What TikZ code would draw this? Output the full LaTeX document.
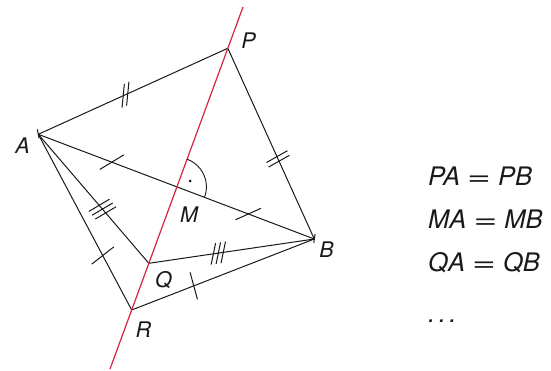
\documentclass[tikz,border=0pt]{standalone}
\usepackage{graphicx}
\usepackage{fontspec}
\setmainfont{TeX Gyre Heros}
\usetikzlibrary{calc}
\definecolor{axisred}{RGB}{214,36,66}
\definecolor{ink}{RGB}{25,25,25}
\newcommand{\tickmarks}[6]{% from,to,pos,angle,count,length
  \foreach \i in {1,...,#5}{%
    \pgfmathsetmacro\tkoff{(\i-(#5+1)/2)*5}%
    \pgfmathsetmacro\tkhalf{#6/2}%
    \coordinate (tkc) at ($(#1)!#3!(#2)$);
    \coordinate (tkd) at ($(tkc)!\tkoff pt!(#2)$);
    \coordinate (tke) at ($(tkd)!\tkhalf pt!#4:(#2)$);
    \coordinate (tkf) at ($(tkd)!-\tkhalf pt!#4:(#2)$);
    \draw[tickline] (tke) -- (tkf);
  }%
}
\newcommand{\eqsign}{\scalebox{1.6}[1]{=}}
\tikzset{
  seg/.style={draw=ink,line width=1pt},
  tickline/.style={draw=ink,line width=1pt},
  axisline/.style={draw=axisred,line width=1.2pt},
  lab/.style={inner sep=0pt,text=ink,font=\fontsize{21.5}{25}\selectfont\itshape},
  eqn/.style={inner sep=0pt,anchor=base west,text=ink,font=\fontsize{25.5}{30}\selectfont\itshape}
}
\begin{document}
\begin{tikzpicture}[x=1pt,y=-1pt,line join=round]
\useasboundingbox (0,0) rectangle (551,370);
\fill[white] (0,0) rectangle (551,370);
\coordinate (A) at (38.3,134.3);
\coordinate (B) at (314.3,239);
\coordinate (L1) at (243,7);
\coordinate (L2) at (110,369);
\coordinate (P) at ($(L1)!0.114!(L2)$);
\coordinate (Q) at ($(L1)!0.708!(L2)$);
\coordinate (R) at ($(L1)!0.837!(L2)$);
\coordinate (M) at (intersection of A--B and L1--L2);
% segments
\draw[seg] (A) -- (P);
\draw[seg] (P) -- (B);
\draw[seg] (A) -- (B);
\draw[seg] (A) -- (Q);
\draw[seg] (Q) -- (B);
\draw[seg] (A) -- (R);
\draw[seg] (R) -- (B);
% vertex markers
\draw[seg] ($(A)+(-1,-5)$) -- ($(A)+(0.8,4)$);
\draw[seg] ($(B)+(0.8,-5)$) -- ($(B)+(-0.5,4)$);
% axis
\draw[axisline] (L1) -- (L2);
% right angle
\draw[seg,line width=0.9pt] ($(M)+(-69.8:29.5)$) arc[start angle=-69.8,end angle=20.75,radius=29.5];
\fill[ink] ($(M)+(-24.5:14.5)$) circle[radius=1.5pt];
% tick marks
\tickmarks{A}{P}{0.46}{60}{2}{24}
\tickmarks{P}{B}{0.58}{95}{2}{24}
\tickmarks{A}{M}{0.53}{52}{1}{28}
\tickmarks{M}{B}{0.52}{45}{1}{28}
\tickmarks{A}{Q}{0.58}{80}{3}{24}
\tickmarks{Q}{B}{0.42}{70}{3}{22}
\tickmarks{A}{R}{0.69}{100}{1}{28}
\tickmarks{R}{B}{0.34}{84}{1}{28}
% labels
\node[lab] (la) at (22.5,145.5) {A};
\node[lab] (lp) at (248.5,41) {P};
\node[lab] (lm) at (189,214.5) {M};
\node[lab] (lb) at (326.5,250) {B};
\node[lab] (lq) at (163.5,280) {Q};
\node[lab] (lr) at (143.5,329.5) {R};
% equations
\node[eqn] (e1) at (428,185) {PA \eqsign{} PB};
\node[eqn] (e2) at (428,228) {MA \eqsign{} MB};
\node[eqn] (e3) at (428,271) {QA \eqsign{} QB};
\node[eqn] (e4) at (428,322) {.\kern3.5pt.\kern3.5pt.};
\end{tikzpicture}
\end{document}
